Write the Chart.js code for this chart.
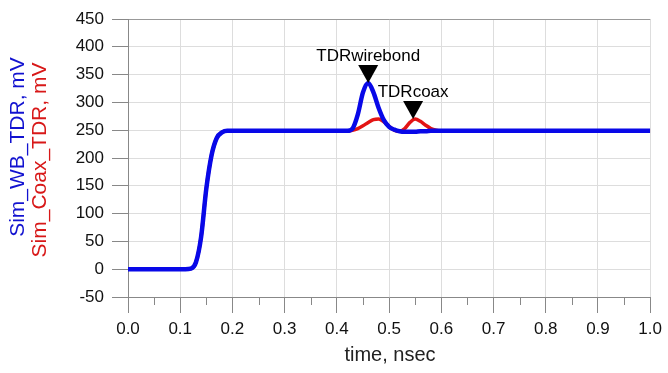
<!DOCTYPE html>
<html>
<head>
<meta charset="utf-8">
<script src="https://cdn.jsdelivr.net/npm/chart.js@4"></script>
<style>
  html, body { margin: 0; padding: 0; background: #fff; }
  #wrap { width: 668px; height: 373px; }
</style>
</head>
<body>
<div id="wrap"><canvas id="tdrChart" width="668" height="373"></canvas></div>
<script>
// time axis (nsec) and the two TDR traces (mV)
const time = [0.00, 0.10, 0.11, 0.12, 0.13, 0.14, 0.15, 0.16, 0.17, 0.18, 0.19, 0.20, 0.30, 0.40,
              0.42, 0.43, 0.44, 0.45, 0.46, 0.47, 0.48, 0.49, 0.50, 0.51, 0.52, 0.53, 0.54,
              0.55, 0.56, 0.57, 0.58, 0.59, 0.60, 0.70, 0.80, 1.00];
const wbTdr = [0, 0, 0, 1, 12, 58, 145, 205, 236, 246, 249, 249, 249, 249,
               249, 253, 278, 318, 335, 318, 290, 268, 256, 251, 248, 247, 247,
               247, 248, 248, 249, 249, 249, 249, 249, 249];
const coaxTdr = [0, 0, 0, 1, 12, 58, 145, 205, 236, 246, 249, 249, 249, 249,
                 249, 250, 253, 258, 264, 269, 270, 265, 257, 250, 248, 253, 264,
                 270, 266, 259, 253, 250, 249, 249, 249, 249];

const xTicks = [0.0, 0.1, 0.2, 0.3, 0.4, 0.5, 0.6, 0.7, 0.8, 0.9, 1.0];
const xMinorTicks = [0.05, 0.15, 0.25, 0.35, 0.45, 0.55, 0.65, 0.75, 0.85, 0.95];
const yTicks = [-50, 0, 50, 100, 150, 200, 250, 300, 350, 400, 450];

// markers
const markerNames = ['TDRwirebond', 'TDRcoax'];
const markerTime = [0.46, 0.546];
const markerValue = [335, 270];

const fontFam = '"Liberation Sans", Arial, sans-serif';

const overlay = {
  id: 'overlay',
  afterDraw(chart) {
    const ctx = chart.ctx;
    const xs = chart.scales.x, ys = chart.scales.y;
    ctx.save();
    // minor ticks below the x axis
    ctx.strokeStyle = '#888';
    ctx.lineWidth = 1;
    xMinorTicks.forEach(t => {
      const px = Math.round(xs.getPixelForValue(t)) + 0.5;
      ctx.beginPath();
      ctx.moveTo(px, ys.bottom);
      ctx.lineTo(px, ys.bottom + 8);
      ctx.stroke();
    });
    // markers
    ctx.fillStyle = '#000';
    ctx.font = '17px ' + fontFam;
    ctx.textAlign = 'center';
    ctx.textBaseline = 'alphabetic';
    markerNames.forEach((name, i) => {
      const px = xs.getPixelForValue(markerTime[i]);
      const py = ys.getPixelForValue(markerValue[i]);
      ctx.beginPath();
      ctx.moveTo(px, py);
      ctx.lineTo(px - 10, py - 18);
      ctx.lineTo(px + 10, py - 18);
      ctx.closePath();
      ctx.fill();
      ctx.fillText(name, px, py - 22);
    });
    // axis titles
    ctx.font = '20px ' + fontFam;
    ctx.fillStyle = '#222';
    ctx.textBaseline = 'middle';
    ctx.fillText('time, nsec', 390, 355);
    ctx.font = '21px ' + fontFam;
    ctx.translate(18, 147);
    ctx.rotate(-Math.PI / 2);
    ctx.fillStyle = '#1212d0';
    ctx.fillText('Sim_WB_TDR, mV', 0, 0);
    ctx.rotate(Math.PI / 2);
    ctx.translate(22, 13);
    ctx.rotate(-Math.PI / 2);
    ctx.fillStyle = '#d81818';
    ctx.fillText('Sim_Coax_TDR, mV', 0, 0);
    ctx.restore();
  }
};

const ctx = document.getElementById('tdrChart').getContext('2d');
const tdrChart = new Chart(ctx, {
  type: 'line',
  data: {
    datasets: [
      {
        label: 'Sim_WB_TDR',
        data: time.map((t, i) => ({ x: t, y: wbTdr[i] })),
        borderColor: '#0808e8',
        borderWidth: 4.5,
        pointRadius: 0,
        fill: false,
        cubicInterpolationMode: 'monotone'
      },
      {
        label: 'Sim_Coax_TDR',
        data: time.map((t, i) => ({ x: t, y: coaxTdr[i] })),
        borderColor: '#e31414',
        borderWidth: 3.5,
        pointRadius: 0,
        fill: false,
        cubicInterpolationMode: 'monotone'
      }
    ]
  },
  options: {
    responsive: false,
    animation: false,
    layout: { padding: { top: 19, right: 17, left: 0, bottom: 0 } },
    plugins: {
      legend: { display: false },
      tooltip: { enabled: false }
    },
    scales: {
      x: {
        type: 'linear',
        min: 0,
        max: 1,
        afterBuildTicks: scale => { scale.ticks = xTicks.map(v => ({ value: v })); },
        afterFit: scale => { scale.height = 76; },
        ticks: {
          callback: v => v.toFixed(1),
          color: '#111',
          font: { size: 17, family: fontFam },
          padding: 6,
          maxRotation: 0
        },
        grid: {
          color: '#ddd',
          tickColor: '#888',
          tickLength: 16
        },
        border: { color: '#888' }
      },
      y: {
        min: -50,
        max: 450,
        afterBuildTicks: scale => { scale.ticks = yTicks.map(v => ({ value: v })); },
        afterFit: scale => { scale.width = 128; },
        ticks: {
          color: '#111',
          font: { size: 17, family: fontFam },
          padding: 8
        },
        grid: {
          color: c => c.tick && c.tick.value === 450 ? '#999' : '#ddd',
          tickColor: '#888',
          tickLength: 16
        },
        border: { color: '#888' }
      }
    }
  },
  plugins: [overlay]
});
</script>
</body>
</html>
